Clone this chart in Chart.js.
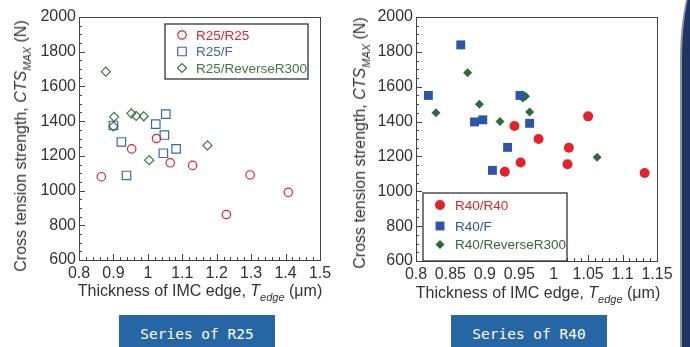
<!DOCTYPE html>
<html>
<head>
<meta charset="utf-8">
<script src="https://cdn.jsdelivr.net/npm/chart.js@4.4.1/dist/chart.umd.min.js"></script>
<style>
  body { margin: 0; width: 690px; height: 347px; background: #fff; position: relative; overflow: hidden;
         font-family: "Liberation Sans", Arial, sans-serif; color: #333; }
  canvas { position: absolute; top: 0; }
  #c1 { left: 0; }
  #c2 { left: 345px; }
  .ytitle { position: absolute; font-size: 16px; white-space: nowrap; transform: translate(-50%, -50%) rotate(-90deg); }
  .xtitle { position: absolute; font-size: 16px; white-space: nowrap; transform: translateX(-50%); }
  sub { font-size: 11px; font-style: italic; vertical-align: -5px; line-height: 0; }
  .tag { position: absolute; top: 315px; width: 156px; height: 32px; background: #2766a4; color: #fff;
         font-family: "DejaVu Sans Mono", monospace; font-size: 14.5px; text-align: center; line-height: 38px; }
  .band { position: absolute; left: 680px; top: -40px; width: 40px; height: 420px; background: #203563;
          border-left: 2px solid #8c93a6; border-top-left-radius: 30px 100px; }
</style>
</head>
<body>
<canvas id="c1" width="345" height="300"></canvas>
<canvas id="c2" width="335" height="300"></canvas>

<div class="ytitle" style="left:21px; top:146px;">Cross tension strength, <i>CTS</i><sub>MAX</sub> (N)</div>
<div class="ytitle" style="left:360px; top:143px;">Cross tension strength, <i>CTS</i><sub>MAX</sub> (N)</div>
<div class="xtitle" style="left:200px; top:282px;">Thickness of IMC edge, <i>T</i><sub>edge</sub> (μm)</div>
<div class="xtitle" style="left:538px; top:284px;">Thickness of IMC edge, <i>T</i><sub>edge</sub> (μm)</div>

<div class="tag" style="left:119px;">Series of R25</div>
<div class="tag" style="left:451px;">Series of R40</div>
<div class="band"></div>

<script>
// ---- Series of R25 ----
const r25R25X = [0.865, 0.953, 1.025, 1.065, 1.13, 1.228, 1.297, 1.408];
const r25R25Y = [1080, 1240, 1300, 1160, 1145, 862, 1090, 990];
const r25FX = [0.9, 0.923, 0.938, 1.023, 1.048, 1.052, 1.045, 1.082];
const r25FY = [1375, 1280, 1087, 1383, 1320, 1440, 1215, 1240];
const r25RevX = [0.878, 0.902, 0.9, 0.952, 0.966, 0.988, 1.004, 1.173];
const r25RevY = [1685, 1425, 1370, 1445, 1430, 1428, 1175, 1260];

// ---- Series of R40 ----
const r40R40X = [0.929, 0.943, 0.952, 0.978, 1.02, 1.022, 1.05, 1.132];
const r40R40Y = [1112, 1375, 1165, 1300, 1155, 1250, 1430, 1105];
const r40FX = [0.818, 0.865, 0.885, 0.897, 0.911, 0.933, 0.951, 0.965];
const r40FY = [1550, 1840, 1398, 1410, 1120, 1252, 1550, 1390];
const r40RevX = [0.829, 0.875, 0.892, 0.922, 0.955, 0.959, 0.965, 1.063];
const r40RevY = [1450, 1680, 1500, 1400, 1535, 1545, 1455, 1195];

const yTicks = { min: 600, max: 2000, step: 200, minor: 50 };
const r25XTicks = { min: 0.8, max: 1.5, step: 0.1, minor: 0.02 };
const r40XTicks = { min: 0.8, max: 1.15, step: 0.05, minor: 0.01 };

const RED = '#e5222b';
const BLUE = '#2c55a8';
const GREEN = '#2f6b3a';
const FONT = '"Liberation Sans", Arial, sans-serif';

function pts(xs, ys) {
    return xs.map((x, i) => ({ x: x, y: ys[i] }));
}

// frame, inward tick marks and boxed legend
const framePlugin = {
    id: 'frame',
    beforeDatasetsDraw(chart, args, opts) {
        const { ctx, chartArea: a, scales: { x, y } } = chart;
        ctx.save();
        ctx.strokeStyle = '#444';
        ctx.lineWidth = 1;
        ctx.strokeRect(a.left + 0.5, a.top + 0.5, a.right - a.left, a.bottom - a.top);
        ctx.beginPath();
        const yt = opts.yTicks;
        for (let i = 0; i * yt.minor <= yt.max - yt.min + 1e-9; i++) {
            const v = yt.min + i * yt.minor;
            const major = Math.abs(v / yt.step - Math.round(v / yt.step)) < 1e-6;
            const py = Math.round(y.getPixelForValue(v)) + 0.5;
            ctx.moveTo(a.left, py);
            ctx.lineTo(a.left + (major ? 6 : 3), py);
        }
        const xt = opts.xTicks;
        for (let i = 0; i * xt.minor <= xt.max - xt.min + 1e-9; i++) {
            const v = xt.min + i * xt.minor;
            const major = Math.abs(v / xt.step - Math.round(v / xt.step)) < 1e-6;
            const px = Math.round(x.getPixelForValue(v)) + 0.5;
            ctx.moveTo(px, a.bottom);
            ctx.lineTo(px, a.bottom - (major ? 6 : 3));
        }
        ctx.stroke();
        ctx.restore();
    },
    afterDraw(chart, args, opts) {
        const { ctx, chartArea: a } = chart;
        const lg = opts.legend;
        const bx = a.left + lg.dx, by = a.top + lg.dy;
        ctx.save();
        ctx.fillStyle = '#fff';
        ctx.fillRect(bx, by, lg.w, lg.h);
        ctx.strokeStyle = '#333';
        ctx.lineWidth = 1.3;
        ctx.strokeRect(bx, by, lg.w, lg.h);
        ctx.font = '13.5px ' + FONT;
        ctx.textBaseline = 'middle';
        chart.data.datasets.forEach((ds, i) => {
            const ry = by + lg.rows[i];
            ctx.fillStyle = ds.backgroundColor;
            ctx.strokeStyle = ds.borderColor;
            ctx.lineWidth = ds.borderWidth;
            Chart.helpers.drawPoint(ctx, {
                pointStyle: ds.pointStyle, radius: ds.pointRadius, rotation: 0, borderWidth: ds.borderWidth
            }, bx + lg.mark, ry);
            ctx.fillStyle = ds.borderColor;
            ctx.fillText(ds.label, bx + lg.text, ry + 1);
        });
        ctx.restore();
    }
};

function makeChart(id, datasets, xt, g) {
    const ctx = document.getElementById(id).getContext('2d');
    const tickFont = { family: FONT, size: 16 };
    const fmt = (v) => String(Math.round(v * 1000) / 1000);

    return new Chart(ctx, {
        type: 'scatter',
        data: { datasets: datasets },
        options: {
            responsive: false,
            animation: false,
            events: [],
            layout: { padding: { top: g.top, right: g.right, left: 0, bottom: 0 } },
            scales: {
                x: {
                    type: 'linear',
                    min: xt.min,
                    max: xt.max,
                    grid: { display: false, drawTicks: false },
                    border: { display: false },
                    ticks: {
                        stepSize: xt.step, font: tickFont, color: '#333', padding: 4,
                        maxRotation: 0, autoSkip: false, callback: fmt
                    },
                    afterFit: (s) => { s.height = g.xh; }
                },
                y: {
                    type: 'linear',
                    min: yTicks.min,
                    max: yTicks.max,
                    grid: { display: false, drawTicks: false },
                    border: { display: false },
                    ticks: { stepSize: yTicks.step, font: tickFont, color: '#333', padding: 3, callback: fmt },
                    afterFit: (s) => { s.width = g.yw; }
                }
            },
            plugins: {
                legend: { display: false },
                tooltip: { enabled: false },
                frame: { yTicks: yTicks, xTicks: xt, legend: g.legend }
            }
        },
        plugins: [framePlugin]
    });
}

makeChart('c1', [{
    label: 'R25/R25',
    data: pts(r25R25X, r25R25Y),
    pointStyle: 'circle', pointRadius: 4.2,
    backgroundColor: 'rgba(0,0,0,0)', borderColor: RED, borderWidth: 1.2
}, {
    label: 'R25/F',
    data: pts(r25FX, r25FY),
    pointStyle: 'rect', pointRadius: 6,
    backgroundColor: 'rgba(0,0,0,0)', borderColor: '#3a66b8', borderWidth: 1.2
}, {
    label: 'R25/ReverseR300',
    data: pts(r25RevX, r25RevY),
    pointStyle: 'rectRot', pointRadius: 4.5,
    backgroundColor: 'rgba(0,0,0,0)', borderColor: '#3a7a42', borderWidth: 1.2
}], r25XTicks, {
    top: 17, right: 25, yw: 79, xh: 40,
    legend: { dx: 86, dy: 7, w: 143, h: 55, mark: 17, text: 31, rows: [11, 27.5, 44] }
});

makeChart('c2', [{
    label: 'R40/R40',
    data: pts(r40R40X, r40R40Y),
    pointStyle: 'circle', pointRadius: 5,
    backgroundColor: RED, borderColor: RED, borderWidth: 0
}, {
    label: 'R40/F',
    data: pts(r40FX, r40FY),
    pointStyle: 'rect', pointRadius: 6.3,
    backgroundColor: BLUE, borderColor: BLUE, borderWidth: 0
}, {
    label: 'R40/ReverseR300',
    data: pts(r40RevX, r40RevY),
    pointStyle: 'rectRot', pointRadius: 4.5,
    backgroundColor: GREEN, borderColor: GREEN, borderWidth: 0
}], r40XTicks, {
    top: 17, right: 23, yw: 71, xh: 39,
    legend: { dx: 7, dy: 176, w: 144, h: 68, mark: 17, text: 32, rows: [12, 33, 51.5] }
});
</script>
</body>
</html>
